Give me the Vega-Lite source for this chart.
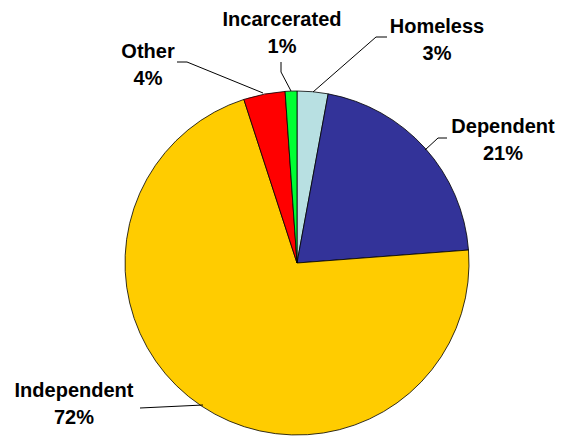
{
  "$schema": "https://vega.github.io/schema/vega-lite/v6.json",
  "width": 567,
  "height": 437,
  "autosize": {"type": "fit", "contains": "padding"},
  "padding": 0,
  "background": "white",
  "config": {"view": {"stroke": null}},
  "datasets": {
    "slices": [
      {"category": "Homeless", "value": 2.9, "ord": 1},
      {"category": "Dependent", "value": 20.9, "ord": 2},
      {"category": "Independent", "value": 71.2, "ord": 3},
      {"category": "Other", "value": 3.9, "ord": 4},
      {"category": "Incarcerated", "value": 1.1, "ord": 5}
    ],
    "labels": [
      {"label": "Incarcerated\n1%", "lx": 282, "ly": 26},
      {"label": "Homeless\n3%", "lx": 437, "ly": 33},
      {"label": "Other\n4%", "lx": 148, "ly": 58},
      {"label": "Dependent\n21%", "lx": 503, "ly": 133},
      {"label": "Independent\n72%", "lx": 74, "ly": 397}
    ],
    "leaders": [
      {"a": 177, "b": 62, "a2": 187, "b2": 62},
      {"a": 187, "b": 62, "a2": 263, "b2": 93},
      {"a": 281, "b": 62, "a2": 281, "b2": 72},
      {"a": 281, "b": 72, "a2": 291, "b2": 91},
      {"a": 387, "b": 37, "a2": 376, "b2": 37},
      {"a": 376, "b": 37, "a2": 313, "b2": 92},
      {"a": 447, "b": 138, "a2": 438, "b2": 138},
      {"a": 438, "b": 138, "a2": 425, "b2": 150},
      {"a": 140, "b": 408, "a2": 203, "b2": 405}
    ]
  },
  "layer": [
    {
      "data": {"name": "slices"},
      "mark": {"type": "arc", "radius": 172, "stroke": "black", "strokeWidth": 0.8},
      "encoding": {
        "x": {"datum": 297, "type": "quantitative", "scale": {"domain": [0, 567], "nice": false, "zero": false}, "axis": null},
        "y": {"datum": 263, "type": "quantitative", "scale": {"domain": [0, 437], "nice": false, "zero": false, "reverse": true}, "axis": null},
        "theta": {"field": "value", "type": "quantitative", "stack": true},
        "order": {"field": "ord", "type": "quantitative"},
        "color": {
          "field": "category", "type": "nominal", "legend": null,
          "scale": {"domain": ["Homeless", "Dependent", "Independent", "Other", "Incarcerated"],
                    "range": ["#B8E0E2", "#333399", "#FFCC00", "#FF0000", "#00FF33"]}
        }
      }
    },
    {
      "data": {"name": "leaders"},
      "mark": {"type": "rule", "color": "black", "strokeWidth": 1},
      "encoding": {
        "x": {"field": "a", "type": "quantitative", "axis": null},
        "y": {"field": "b", "type": "quantitative", "axis": null},
        "x2": {"field": "a2"},
        "y2": {"field": "b2"}
      }
    },
    {
      "data": {"name": "labels"},
      "mark": {"type": "text", "font": "Liberation Sans", "fontWeight": "bold", "fontSize": 20, "lineHeight": 27, "lineBreak": "\n", "align": "center", "baseline": "alphabetic", "color": "black"},
      "encoding": {
        "x": {"field": "lx", "type": "quantitative", "axis": null},
        "y": {"field": "ly", "type": "quantitative", "axis": null},
        "text": {"field": "label"}
      }
    }
  ]
}
